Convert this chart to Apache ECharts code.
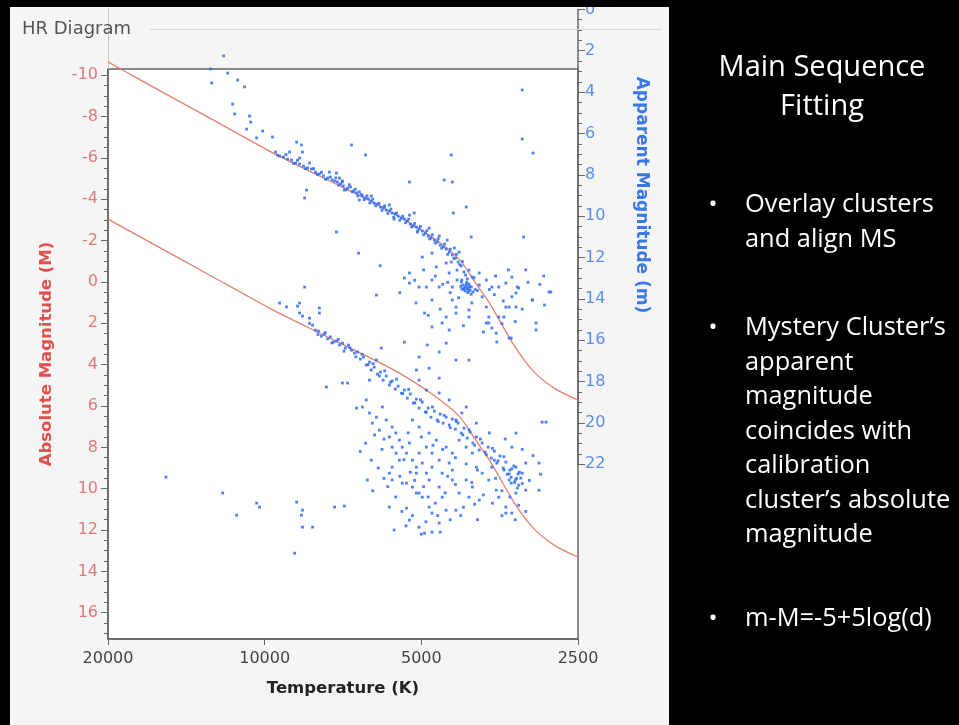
<!DOCTYPE html>
<html>
<head>
<meta charset="utf-8">
<script src="https://cdn.jsdelivr.net/npm/echarts@6/dist/echarts.min.js"></script>
<style>
html,body{margin:0;padding:0;background:#f5f5f5;}
#chart{width:959px;height:725px;}
</style>
</head>
<body>
<div id="chart"></div>
<script>
// ---- tick labels ----
const tempTicks = [20000, 10000, 5000, 2500];
const absMagTicks = [-10, -8, -6, -4, -2, 0, 2, 4, 6, 8, 10, 12, 14, 16];
const appMagTicks = [0, 2, 4, 6, 8, 10, 12, 14, 16, 18, 20, 22];

// ---- ZAMS reference curves (Temperature K, magnitude) ----
const zamsTemps = [20000, 17370, 15410, 13320, 11170, 9650, 7850, 6370, 5510, 4770, 4230, 3920, 3700, 3540, 3320, 3060, 2780, 2500];
const zamsAbsMag = [-3.04, -2.19, -1.47, -0.59, 0.47, 1.35, 2.47, 3.59, 4.41, 5.42, 6.49, 7.70, 8.62, 9.44, 10.65, 11.86, 12.73, 13.31];
const zamsAppMag = [2.54, 3.40, 4.12, 4.99, 6.06, 6.94, 8.06, 9.17, 10.03, 11.01, 12.08, 13.29, 14.20, 15.03, 16.24, 17.45, 18.32, 18.90];

// ---- Calibration cluster: [Temperature K, absolute magnitude M] ----
const calibrationCluster = [
[15480,9.44],[12040,10.21],[11320,11.28],[10360,10.70],[10230,10.89],[8680,10.65],[8460,11.04],[8500,11.28],[8460,11.86],[8090,11.86],[7340,10.89],[7030,10.84],[8760,13.12],[7610,5.08],[7090,4.89],[6930,4.89],
[9360,1.02],[8570,1.02],[8570,1.50],[8460,1.65],[7850,1.26],[7850,1.50],[8380,0.25],[8645,1.17],[9080,1.21],[8200,1.75],
[8090,2.09],[7990,2.33],[7880,2.38],[7780,2.62],[7680,2.52],[7570,2.76],[7480,2.66],[7380,2.91],[7280,2.86],[7180,3.05],[7090,2.96],[7000,3.20],[6900,3.05],[6810,3.30],[6720,3.44],[6630,3.39],[6550,3.73],[6460,3.63],[6380,4.02],[6290,3.88],[6240,4.26],[6160,4.12],[6070,4.46],[5990,4.36],[5920,4.75],[5840,4.55],[5760,4.99],[5690,4.79],[5610,5.18],[5540,5.04],[5460,5.38],[5390,5.23],[5320,5.62],[5250,5.42],[5180,5.86],[5110,5.67],[5050,6.10],[4980,5.81],[4910,6.29],[4850,6.10],[4790,6.54],[4720,6.25],[4660,6.68],[4600,6.39],[4540,6.83],[4480,6.54],[4420,6.92],[4360,6.63],[4300,7.12],[4250,6.83],[4190,7.31],[4140,7.07],[4080,7.55],[4030,7.26],[3980,7.79],[3920,7.50],[3870,8.13],[3820,7.79],[3770,8.23],[3720,7.99],[3670,8.52],[3620,8.18],[3580,8.76],[3530,8.42],[3480,9.00],[3440,8.71],[3390,9.29],[3350,9.04],[3300,9.58],[3260,9.29],[3250,9.83],[3470,9.10],[3620,8.62],[3220,9.49],[3270,9.97],[3360,9.73],
[8200,2.0],[7900,2.55],[7650,2.45],[7430,2.95],[7220,2.78],[7040,3.35],[6860,3.18],[6680,3.62],[6500,3.50],[6330,4.00],[6190,3.95],[6020,4.55],[5880,4.30],[5730,4.85],[5580,4.70],[5430,5.40],[5290,5.20],[5150,5.85],[5020,5.70],[4890,6.30],[4760,6.05],[4640,6.75],[4520,6.45],[4400,7.05],[4280,6.75],[4160,7.40],[4050,7.15],[3950,7.90],[3850,7.60],[3750,8.35],[3650,8.05],[3560,8.65],[3470,8.45],[3380,9.10],[3320,8.90],[3280,9.50],[3240,9.20],[3200,9.75],[3310,9.70],[3420,9.30],[3360,9.45],
[6660,6.10],[6490,6.05],[6380,5.71],[6290,6.34],[6100,6.54],[6210,6.83],[5940,6.05],[5840,6.68],[5690,7.02],[6020,7.17],[5760,7.50],[5510,7.65],[5690,7.99],[5590,8.28],[5440,7.99],[5340,8.28],[5270,7.79],[5200,8.62],[5050,8.28],[4980,8.76],[5110,8.96],[5510,8.62],[5690,8.96],[5760,9.25],[6240,8.62],[6350,9.58],[5690,9.58],[5440,9.73],[5200,9.92],[5050,10.21],[4830,9.58],[4770,8.96],[4620,8.62],[4420,8.76],[4480,7.99],[4680,7.65],[4830,7.31],[5050,7.02],[5200,6.68],[4360,8.28],[4230,7.65],[4100,7.99],[3990,8.28],[3920,8.96],[3820,9.25],[3710,9.58],[4100,9.58],[4360,9.58],[4620,9.92],[4230,10.21],[4050,10.41],[3870,10.55],[3990,9.92],[3590,10.07],[3440,10.89],[3350,11.18],[3440,11.18],[3550,10.41],[3290,10.21],[3150,10.07],[2970,10.07],[3150,8.76],[2970,8.76],[2930,6.78],[2880,6.78],[3290,7.31],[3350,7.99],[3290,8.96],[3390,9.58],[3200,9.25],[3660,8.96],[5760,10.89],[5340,10.94],[5110,10.21],[4830,10.89],[4770,11.18],[4480,11.04],[4290,11.04],[4560,10.41],[4980,10.41],[5270,11.52],[5050,11.86],[4930,12.15],[4770,12.10],[5640,12.00],[4620,11.66],[5340,9.73],[5110,9.25],[4890,9.25],[4560,9.25],[4360,9.10],[4770,8.28],[4890,7.99],[4290,6.68],[4180,6.34],[4420,5.71],[4620,5.37],[4890,5.23],[5050,4.75],[4100,6.05],[3920,6.83],[4050,3.78],[4290,3.78],[4620,3.39],[4870,3.05],[4480,2.96],[4830,4.17],[4620,4.65],[5110,4.26],[5050,3.63],[5390,2.91],[5970,3.20],[6100,3.78],[6290,4.75],
[5900,7.60],[5600,7.30],[5400,8.60],[5250,9.20],[5150,9.60],[4950,9.90],[4850,10.40],[4700,10.70],[4500,10.20],[4300,9.80],[4150,10.90],[3950,10.75],[3800,10.30],[3650,10.70],[3500,10.10],[3380,10.40],[3250,10.80],[3150,11.10],[3100,9.60],[3050,8.40],[2950,9.30],[3200,8.10],[3450,7.60],[3700,7.30],[5950,8.10],[6150,7.40],[6400,7.80],[6550,8.20],[6050,9.00],[5800,9.90],[5600,10.40],[5450,11.10],[5200,11.30],[4900,11.60],[4650,11.30],[4400,11.50],[4600,12.10],[5000,12.20],[5350,11.80],[4200,11.30],[3900,11.50],[3500,11.30],[3300,11.50],[5300,7.30],[5000,7.50],[4750,7.90],[4550,8.10],[4300,8.50],[4100,8.80],[3900,9.10],[5500,9.40],[5900,9.50],[6200,10.10],[4450,9.40],[4000,9.70],[3600,9.50]
];

// ---- Mystery cluster: [Temperature K, apparent magnitude m] ----
const mysteryCluster = [
[11990,2.25],[12700,2.88],[11775,3.08],[12640,3.56],[11270,3.42],[10930,3.75],[11520,4.58],[11420,5.06],[10690,5.16],[10640,5.45],[10830,5.79],[10090,5.88],[10360,6.22],[9660,6.17],[8680,6.42],[8500,6.56],[8460,6.90],[8570,7.19],[8310,8.74],[8380,9.12],[6810,6.56],[6400,7.04],[7280,10.77],[6600,11.79],[6100,13.82],[3200,3.90],[3200,6.27],[3050,6.95],[4380,7.04],[5270,8.35],[4520,8.25],[4360,8.35],[4100,9.56],[4340,9.85],[5160,9.85],[5890,9.56],[4010,11.01],[3180,11.01],[2910,12.90],[2820,13.67],[3060,14.06],[3010,15.17],[3360,15.90],
[9530,6.90],[9360,7.09],[9200,7.14],[9035,7.24],[8880,7.29],[8720,7.43],[8570,7.48],[8420,7.58],[8270,7.67],[8130,7.72],[7990,7.87],[7850,7.96],[7710,8.06],[7570,8.16],[7480,8.11],[7340,8.30],[7250,8.35],[7150,8.45],[7060,8.54],[6930,8.64],[6840,8.59],[6750,8.79],[6660,8.88],[6580,8.83],[6490,9.03],[6400,9.12],[6320,9.17],[6240,9.27],[6160,9.37],[6070,9.42],[5990,9.56],[5920,9.61],[5840,9.71],[5760,9.75],[5690,9.85],[5610,9.90],[5540,10.0],[5460,10.09],[5390,10.14],[5320,10.24],[5250,10.38],[5180,10.48],[5110,10.53],[5050,10.62],[4980,10.72],[4910,10.82],[4850,10.96],[4790,11.06],[4720,11.16],[4660,11.25],[4600,11.40],[4540,11.49],[4480,11.59],[4420,11.74],[4360,11.88],[4300,12.03],[4250,12.22],[4190,12.41],[4140,12.70],[4080,13.04],[4050,13.29],[4120,13.43],[4080,13.53],[4160,13.33],[4030,13.58],[3980,13.67],[4190,13.19],[4270,13.09],
[9450,7.05],[9100,7.02],[8800,7.45],[8650,7.30],[8350,7.70],[8050,7.70],[7920,7.98],[7780,7.88],[7640,8.22],[7420,8.25],[7300,8.15],[7200,8.50],[7100,8.35],[6980,8.72],[6880,8.48],[6790,8.82],[6700,8.70],[6620,9.02],[6520,8.95],[6440,9.20],[6360,9.02],[6280,9.36],[6200,9.18],[6120,9.50],[6030,9.38],[5950,9.72],[5880,9.50],[5800,9.88],[5720,9.66],[5650,10.05],[5580,9.85],[5500,10.20],[5430,10.0],[5360,10.32],[5290,10.15],[5220,10.52],[5150,10.35],[5080,10.72],[5020,10.50],[4950,10.90],[4880,10.70],[4820,11.10],[4760,10.90],[4700,11.30],[4640,11.10],[4570,11.55],[4510,11.35],[4450,11.85],[4400,11.60],[4330,12.05],[4280,11.85],[4220,12.35],[4170,12.20],[4110,12.85],[4090,13.20],[4040,13.40],[4140,13.55],[4070,13.70],[4010,13.78],[3940,13.55],[4200,13.40],[4100,13.30],
[8960,6.90],[8200,7.43],[7510,7.87],[7030,8.74],[6580,9.22],[6240,9.03],[5760,9.46],[5640,10.14],[5270,9.95],[5090,10.77],[4830,10.58],[4620,10.96],[4460,11.16],[4380,12.22],[4320,11.54],[4230,11.74],[4050,12.61],[3960,12.99],[3870,13.33],[7280,7.92],[7180,8.16],[7090,8.30],
[5270,12.75],[4980,11.98],[4770,11.79],[4680,12.46],[4480,12.27],[4420,12.75],[4270,12.61],[4770,13.09],[4620,13.43],[5050,13.43],[5390,12.99],[4360,13.43],[4180,13.09],[3990,12.95],[3870,12.75],[3750,13.09],[3660,13.43],[3550,13.43],[3440,13.24],[3350,12.95],[3270,13.43],[3290,13.72],[3390,14.40],[3290,14.40],[3470,14.88],[3750,14.40],[3710,14.88],[4050,14.54],[4290,14.40],[4480,14.88],[4770,15.36],[4560,15.17],[4930,14.69],[4420,15.51],[3590,15.66],[3710,15.17],[5270,13.24],[4890,13.43],[4770,14.06],[4360,14.06],[4290,14.69],[4050,14.88],[3750,15.17],[3660,15.41],[3550,14.88],[3440,14.40],[3250,13.48],[3060,14.06],[3010,15.51],[3580,16.09],[3390,15.90],[2840,13.67],
[5150,13.10],[4950,12.60],[4700,12.90],[4550,13.30],[4400,13.70],[4240,13.95],[4000,14.20],[3820,13.90],[3620,13.80],[3480,14.10],[3350,13.90],[3200,14.50],[3120,13.20],[2960,13.30],[3500,15.20],[3800,15.60],[4150,15.30],[4600,14.50],[4850,14.80],[5120,14.20],[3300,15.10],[3900,13.60],[3700,13.55],[4450,13.20],[3150,12.60],[2900,14.30],[5500,13.70],[6000,12.40],[3400,12.60],[3600,12.90],
[4140,13.48],[4100,13.38],[4060,13.48],[4050,13.62],[4180,13.53],[4010,13.43],[4120,13.62]
];

// ---- slide text ----
const slideTitle = ['Main Sequence', 'Fitting'];
const bullets = [
  ['Overlay clusters', 'and align MS'],
  ['Mystery Cluster\u2019s', 'apparent', 'magnitude', 'coincides with', 'calibration', 'cluster\u2019s absolute', 'magnitude'],
  ['m-M=-5+5log(d)']
];

function halfSteps(a, b) { const r = []; for (let v = a; v <= b + 1e-9; v += 0.5) r.push(+v.toFixed(1)); return r; }

const zamsAbsData = zamsTemps.map((t, i) => [t, zamsAbsMag[i]]);
const zamsAppData = zamsTemps.map((t, i) => [t, zamsAppMag[i]]);

const FONT = 'DejaVu Sans';
const AX = '#666';

const graphics = [];
graphics.push({type:'line', shape:{x1:150,y1:29.5,x2:662,y2:29.5}, style:{stroke:'#d8d8d8', lineWidth:1}, z:1});
graphics.push({type:'line', shape:{x1:108.5,y1:8,x2:108.5,y2:69}, style:{stroke:'#c8c8c8', lineWidth:1}, z:1});
graphics.push({type:'text', x:22, y:29, style:{text:'HR Diagram', fill:'#555', fontFamily:FONT, fontSize:18, textVerticalAlign:'middle'}, z:5});
graphics.push({type:'text', x:641, y:195, rotation:-Math.PI/2, style:{text:'Apparent Magnitude (m)', fill:'#3a78e6', fontFamily:FONT, fontSize:17, fontWeight:'bold', textAlign:'center', textVerticalAlign:'middle'}, z:5});
graphics.push({type:'rect', shape:{x:669,y:0,width:290,height:725}, style:{fill:'#000'}, z:50});
graphics.push({type:'rect', shape:{x:0,y:0,width:959,height:7}, style:{fill:'#000'}, z:50});
graphics.push({type:'rect', shape:{x:0,y:0,width:10,height:725}, style:{fill:'#000'}, z:50});
const TF = 'Open Sans';
graphics.push({type:'text', x:822, y:68, style:{text:slideTitle[0], fill:'#fff', fontFamily:TF, fontSize:29, textAlign:'center', textVerticalAlign:'middle'}, z:60});
graphics.push({type:'text', x:822, y:107, style:{text:slideTitle[1], fill:'#fff', fontFamily:TF, fontSize:29, textAlign:'center', textVerticalAlign:'middle'}, z:60});
const bulletStartY = [205, 328, 619];
const lineH = 34.5;
bullets.forEach((lines, bi) => {
  graphics.push({type:'text', x:713, y:bulletStartY[bi], style:{text:'\u2022', fill:'#fff', fontFamily:TF, fontSize:24, textAlign:'center', textVerticalAlign:'middle'}, z:60});
  lines.forEach((ln, li) => {
    graphics.push({type:'text', x:745, y:bulletStartY[bi] + li * lineH, style:{text:ln, fill:'#fff', fontFamily:TF, fontSize:25.4, textVerticalAlign:'middle'}, z:60});
  });
});

const chart = echarts.init(document.getElementById('chart'), null, {renderer:'canvas'});
chart.setOption({
  animation:false,
  backgroundColor:'#f5f5f5',
  grid:[
    {left:108, right:381, top:69, bottom:86, show:true, backgroundColor:'#fff', borderColor:AX, borderWidth:1.5, containLabel:false},
    {left:108, right:381, top:9.4, bottom:260.8, show:false, containLabel:false}
  ],
  xAxis:[
    {gridIndex:0, type:'log', logBase:2, min:2500, max:20000, inverse:true,
     axisLine:{show:true, onZero:false, lineStyle:{color:AX, width:1.5}},
     axisTick:{show:true, length:6, customValues:tempTicks, lineStyle:{color:AX}},
     axisLabel:{customValues:tempTicks, color:'#444', fontFamily:FONT, fontSize:16, margin:12, formatter:v=>String(Math.round(v))},
     splitLine:{show:false}, minorTick:{show:false},
     name:'Temperature (K)', nameLocation:'middle', nameGap:41,
     nameTextStyle:{color:'#222', fontFamily:FONT, fontSize:16.5, fontWeight:'bold'}},
    {gridIndex:1, type:'log', logBase:2, min:2500, max:20000, inverse:true, show:false,
     axisLine:{onZero:false}}
  ],
  yAxis:[
    {gridIndex:0, type:'value', position:'left', inverse:true, min:-10.3, max:17.27,
     axisLine:{show:true, onZero:false, lineStyle:{color:AX, width:1.5}},
     axisTick:{show:true, length:7, customValues:absMagTicks, lineStyle:{color:AX}},
     axisLabel:{customValues:absMagTicks, color:'#e07a78', fontFamily:FONT, fontSize:16, margin:10},
     splitLine:{show:false},
     name:'Absolute Magnitude (M)', nameLocation:'middle', nameRotate:90, nameGap:53,
     nameTextStyle:{color:'#e0504c', fontFamily:FONT, fontSize:16.5, fontWeight:'bold'}},
    {gridIndex:0, type:'value', position:'left', inverse:true, min:-10.3, max:17.27,
     axisLine:{show:false, onZero:false}, axisLabel:{show:false}, splitLine:{show:false},
     axisTick:{show:true, length:4, customValues:halfSteps(-10, 17), lineStyle:{color:AX}}},
    {gridIndex:1, type:'value', position:'right', inverse:true, min:0, max:22,
     axisLine:{show:true, onZero:false, lineStyle:{color:AX, width:1.5}},
     axisTick:{show:true, length:7, customValues:appMagTicks, lineStyle:{color:AX}},
     axisLabel:{customValues:appMagTicks, color:'#5b8ee8', fontFamily:FONT, fontSize:16, margin:7},
     splitLine:{show:false}},
    {gridIndex:1, type:'value', position:'right', inverse:true, min:0, max:22,
     axisLine:{show:false, onZero:false}, axisLabel:{show:false}, splitLine:{show:false},
     axisTick:{show:true, length:4, customValues:halfSteps(0, 22), lineStyle:{color:AX}}}
  ],
  series:[
    {name:'ZAMS (absolute)', type:'line', xAxisIndex:0, yAxisIndex:0, data:zamsAbsData, showSymbol:false, smooth:0.25,
     lineStyle:{color:'#e3826f', width:1.3}, z:3},
    {name:'ZAMS (apparent)', type:'line', xAxisIndex:1, yAxisIndex:2, data:zamsAppData, showSymbol:false, smooth:0.25,
     lineStyle:{color:'#e3826f', width:1.3}, z:3},
    {name:'Calibration cluster', type:'scatter', xAxisIndex:0, yAxisIndex:0, data:calibrationCluster,
     symbol:'rect', symbolSize:2.8, itemStyle:{color:'#2f6cf2', opacity:0.85}, z:4},
    {name:'Mystery cluster', type:'scatter', xAxisIndex:1, yAxisIndex:2, data:mysteryCluster,
     symbol:'rect', symbolSize:2.8, itemStyle:{color:'#2f6cf2', opacity:0.85}, z:4}
  ],
  graphic:graphics
});
</script>
</body>
</html>
